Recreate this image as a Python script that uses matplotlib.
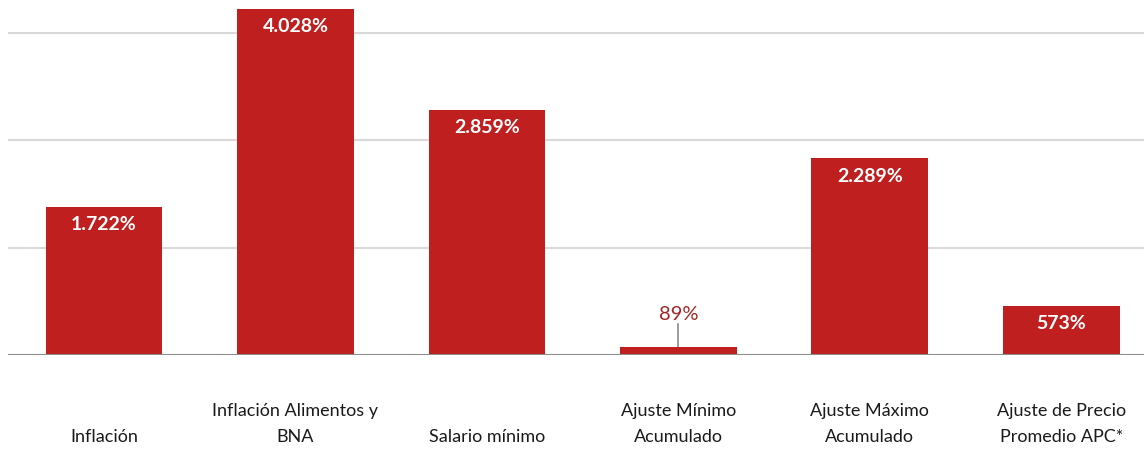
import matplotlib
matplotlib.use("Agg")
import matplotlib.pyplot as plt
from matplotlib.transforms import blended_transform_factory
import numpy as np

# ---------- DATA ----------
categories = [
    "Inflación",
    "Inflación Alimentos y\nBNA",
    "Salario mínimo",
    "Ajuste Mínimo\nAcumulado",
    "Ajuste Máximo\nAcumulado",
    "Ajuste de Precio\nPromedio APC*",
]
values = [1722, 4028, 2859, 89, 2289, 573]
value_labels = ["1.722%", "4.028%", "2.859%", "89%", "2.289%", "573%"]
grid_levels = [1250, 2500, 3750]
# --------------------------

BAR_COLOR = "#C01F1F"
LABEL_DARK = "#A52424"
LEADER_LEN = 270  # leader line length for small bars, in data units

plt.rcParams["font.family"] = ["Lato", "DejaVu Sans"]

fig = plt.figure(figsize=(11.44, 4.51), dpi=100)
# axes spans a little past the right edge, as in the exported chart
ax = fig.add_axes([8.3 / 1144, 1 - 355 / 451, (1157 - 8.3) / 1144, 355 / 451])

x = np.arange(len(categories))
ax.bar(x, values, width=0.61, color=BAR_COLOR, zorder=3)

ax.set_xlim(-0.5, len(categories) - 0.5)
ax.set_ylim(0, 4135)

for g in grid_levels:
    ax.axhline(g, color="#D9D9D9", lw=1.5, zorder=1)
ax.axhline(0, color="#8C8C8C", lw=1.5, zorder=4)

for s in ax.spines.values():
    s.set_visible(False)
ax.set_xticks([])
ax.set_yticks([])

# value labels: inside the bar when it is tall enough, otherwise above with a leader
for xi, v, lab in zip(x, values, value_labels):
    if v > 400:
        ax.annotate(lab, (xi, v), xytext=(0, -6.5), textcoords="offset points",
                    ha="center", va="top", color="white", fontsize=14,
                    fontweight="bold", zorder=5)
    else:
        ax.plot([xi, xi], [v, v + LEADER_LEN], color="#8C8C8C", lw=1.2, zorder=2)
        ax.annotate(lab, (xi, v + LEADER_LEN), xytext=(0, 1), textcoords="offset points",
                    ha="center", va="bottom", color=LABEL_DARK, fontsize=14.5,
                    zorder=5)

# category names sit on a common baseline below the axis
trans = blended_transform_factory(ax.transData, fig.transFigure)
for xi, cat in zip(x, categories):
    ax.text(xi, 6 / 451, cat, transform=trans,
            ha="center", va="bottom", fontsize=13, color="#1A1A1A",
            linespacing=1.75)

fig.savefig("out.png", dpi=100)
